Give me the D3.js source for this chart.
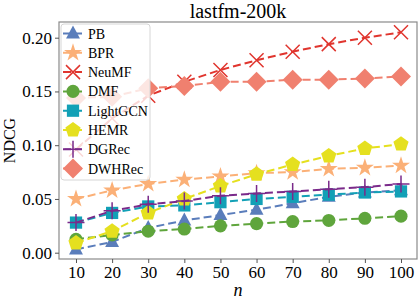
<!DOCTYPE html>
<html>
<head>
<meta charset="utf-8">
<script src="https://cdn.jsdelivr.net/npm/d3@7"></script>
<style>
  body { margin: 0; background: #fff; }
</style>
</head>
<body>
<div id="chart"></div>
<script>
// data
const nValues = [10, 20, 30, 40, 50, 60, 70, 80, 90, 100];
const yTicks = [0.00, 0.05, 0.10, 0.15, 0.20];
const seriesNames = ['PB', 'BPR', 'NeuMF', 'DMF', 'LightGCN', 'HEMR', 'DGRec', 'DWHRec'];
const pb = [0.003, 0.010, 0.023, 0.030, 0.035, 0.040, 0.046, 0.052, 0.056, 0.058];
const bpr = [0.050, 0.058, 0.064, 0.068, 0.071, 0.074, 0.075, 0.078, 0.079, 0.081];
const neumf = [0.096, 0.125, 0.146, 0.159, 0.170, 0.179, 0.187, 0.194, 0.200, 0.205];
const dmf = [0.0125, 0.0165, 0.020, 0.022, 0.025, 0.027, 0.029, 0.030, 0.032, 0.034];
const lightgcn = [0.028, 0.037, 0.043, 0.044, 0.047, 0.050, 0.052, 0.054, 0.056, 0.057];
const hemr = [0.009, 0.020, 0.037, 0.050, 0.062, 0.073, 0.082, 0.090, 0.097, 0.101];
const dgrec = [0.028, 0.039, 0.045, 0.048, 0.053, 0.055, 0.057, 0.059, 0.061, 0.064];
const dwhrec = [0.144, 0.145, 0.153, 0.155, 0.159, 0.159, 0.161, 0.161, 0.162, 0.164];

const seriesValues = [pb, bpr, neumf, dmf, lightgcn, hemr, dgrec, dwhrec];
const colors = ['#5a7dbb', '#fbb077', '#e0352e', '#5fa53c', '#12a0b6', '#e5e01f', '#7a2a8a', '#f0806f'];
const markers = ['triangle', 'star', 'x', 'circle', 'square', 'pentagon', 'plus', 'diamond'];

const serif = '"Liberation Serif"';
const width = 418;
const height = 300;
const frame = { left: 59, right: 417, top: 22, bottom: 259 };

const svg = d3.select('#chart')
  .append('svg')
  .attr('width', width)
  .attr('height', height)
  .style('font-family', serif);

const x = d3.scaleLinear()
  .domain([10, 100])
  .range([76, 401]);

const y = d3.scaleLinear()
  .domain([0, 0.20])
  .range([252.7, 37.7]);

// marker paths, centred on 0,0
function markerPath(type) {
  if (type === 'triangle') {
    const r = 8;
    return `M0,${-r} L${r * 0.87},${r * 0.5 + 1} L${-r * 0.87},${r * 0.5 + 1}Z`;
  }
  if (type === 'star') return d3.symbol(d3.symbolStar, 100)();
  if (type === 'circle') return d3.symbol(d3.symbolCircle, 135)();
  if (type === 'square') return d3.symbol(d3.symbolSquare, 150)();
  if (type === 'diamond') {
    const r = 10;
    return `M0,${-r} L${r},0 L0,${r} L${-r},0Z`;
  }
  if (type === 'pentagon') {
    const r = 8;
    const pts = d3.range(5).map(i => {
      const a = -Math.PI / 2 + i * 2 * Math.PI / 5;
      return [r * Math.cos(a), r * Math.sin(a)];
    });
    return 'M' + pts.map(p => p.join(',')).join('L') + 'Z';
  }
  if (type === 'x') {
    const r = 7;
    return `M${-r},${-r}L${r},${r}M${-r},${r}L${r},${-r}`;
  }
  if (type === 'plus') {
    const r = 8.5;
    return `M${-r},0L${r},0M0,${-r}L0,${r}`;
  }
  return '';
}

function drawMarker(g, type, color) {
  const p = g.append('path').attr('d', markerPath(type));
  if (type === 'x' || type === 'plus') {
    p.attr('fill', 'none').attr('stroke', color).attr('stroke-width', 1.5);
  } else {
    p.attr('fill', color);
  }
  return p;
}

// plot frame
svg.append('rect')
  .attr('x', frame.left)
  .attr('y', frame.top)
  .attr('width', frame.right - frame.left)
  .attr('height', frame.bottom - frame.top)
  .attr('fill', 'none')
  .attr('stroke', '#8a8a8a')
  .attr('stroke-width', 1.2);

const plot = svg.append('g');
const line = d3.line()
  .x((d, i) => x(nValues[i]))
  .y(d => y(d));

seriesValues.forEach((vals, k) => {
  plot.append('path')
    .datum(vals)
    .attr('fill', 'none')
    .attr('stroke', colors[k])
    .attr('stroke-width', 2)
    .attr('stroke-dasharray', '8,4')
    .attr('d', line);

  vals.forEach((v, i) => {
    const g = plot.append('g')
      .attr('transform', `translate(${x(nValues[i])},${y(v)})`);
    drawMarker(g, markers[k], colors[k]);
  });
});

// axes
svg.append('g')
  .attr('transform', `translate(${frame.left},0)`)
  .call(d3.axisLeft(y).tickValues(yTicks).tickFormat(d3.format('.2f')).tickSize(4).tickPadding(3))
  .attr('font-family', null)
  .attr('font-size', null)
  .call(g => g.select('.domain').remove())
  .call(g => g.selectAll('line').attr('stroke', '#555'))
  .call(g => g.selectAll('text').attr('fill', '#000')
    .style('font-family', serif).style('font-size', '17px'));

svg.append('g')
  .attr('transform', `translate(0,${frame.bottom})`)
  .call(d3.axisBottom(x).tickValues(nValues).tickSize(4).tickPadding(3))
  .attr('font-family', null)
  .attr('font-size', null)
  .call(g => g.select('.domain').remove())
  .call(g => g.selectAll('line').attr('stroke', '#555'))
  .call(g => g.selectAll('text').attr('fill', '#000')
    .style('font-family', serif).style('font-size', '17px'));

// titles
svg.append('text')
  .attr('x', (frame.left + frame.right) / 2)
  .attr('y', 18)
  .attr('text-anchor', 'middle')
  .style('font-family', serif)
  .style('font-size', '20px')
  .text('lastfm-200k');

svg.append('text')
  .attr('transform', `translate(15,${(frame.top + frame.bottom) / 2}) rotate(-90)`)
  .attr('text-anchor', 'middle')
  .style('font-family', serif)
  .style('font-size', '16px')
  .text('NDCG');

svg.append('text')
  .attr('x', (frame.left + frame.right) / 2)
  .attr('y', 296)
  .attr('text-anchor', 'middle')
  .style('font-family', serif)
  .style('font-size', '18px')
  .style('font-style', 'italic')
  .text('n');

// legend
const legend = svg.append('g');
legend.append('rect')
  .attr('x', 61)
  .attr('y', 24)
  .attr('width', 89)
  .attr('height', 156)
  .attr('rx', 3)
  .attr('fill', 'rgba(255,255,255,0.8)')
  .attr('stroke', '#d6d6d6');

seriesNames.forEach((name, k) => {
  const cy = 33.5 + k * 19.3;
  const g = legend.append('g').attr('transform', `translate(0,${cy})`);
  g.append('line')
    .attr('x1', 63).attr('x2', 82)
    .attr('stroke', colors[k])
    .attr('stroke-width', 2)
    .attr('stroke-dasharray', '8,4');
  const m = g.append('g').attr('transform', 'translate(73,0)');
  drawMarker(m, markers[k], colors[k]);
  g.append('text')
    .attr('x', 88)
    .attr('y', 5)
    .style('font-family', serif)
    .style('font-size', '14px')
    .text(name);
});
</script>
</body>
</html>
